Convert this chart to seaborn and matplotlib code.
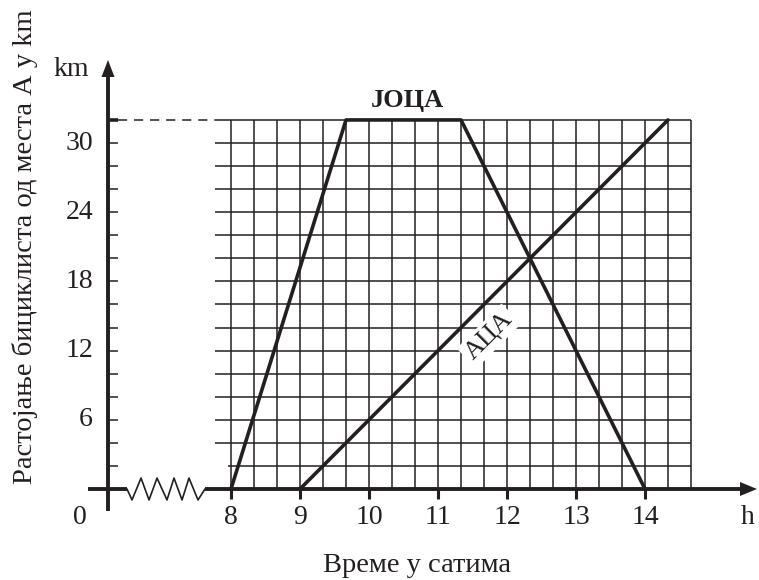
import numpy as np
import pandas as pd
import seaborn as sns
import matplotlib.pyplot as plt

sns.set_style("white")
plt.rcParams["font.family"] = ["Liberation Serif", "DejaVu Serif"]

# data (hours, km)
joca_time = [8, 9 + 2 / 3, 11 + 1 / 3, 14]
joca_km = [0, 32, 32, 0]
aca_time = [9, 14 + 1 / 3]
aca_km = [0, 32]

x_ticks = [8, 9, 10, 11, 12, 13, 14]
y_ticks = [6, 12, 18, 24, 30]

ink = "#231f20"

df = pd.concat([
    pd.DataFrame({"time": joca_time, "km": joca_km, "rider": "ЈОЦА"}),
    pd.DataFrame({"time": aca_time, "km": aca_km, "rider": "АЦА"}),
])

fig = plt.figure(figsize=(7.59, 5.80), dpi=100)
ax = fig.add_axes([0, 0, 1, 1])
# pixel-matched limits: 69 px per hour, 11.533 px per km
px, py = 1 / 69, 1 / 11.533
ax.set_xlim(8 - 231 * px, 8 + 528 * px)
ax.set_ylim((489 - 580) * py, 489 * py)
ax.axis("off")

# grid
y_axis_x = 8 - 123 * px
grid_left = 8 - 16 * px
grid_right = 14 + 2 / 3
ax.vlines(np.arange(8, grid_right + 0.01, 1 / 3), 0, 32, color=ink, lw=1.1, zorder=1)
ax.hlines(np.arange(4, 33, 2), grid_left, grid_right, color=ink, lw=1.1, zorder=1)
ax.hlines(2, 8 - 3 * px, grid_right, color=ink, lw=1.1, zorder=1)

# series
sns.lineplot(data=df[df.rider == "ЈОЦА"], x="time", y="km", color=ink, lw=2.6,
             sort=False, ax=ax, zorder=3, legend=False)
sns.lineplot(data=df[df.rider == "АЦА"], x="time", y="km", color=ink, lw=2.6,
             sort=False, ax=ax, zorder=3, legend=False)

# axes with broken x axis
zx = [6.493, 6.565, 6.696, 6.812, 6.928, 7.072, 7.174, 7.29, 7.391, 7.522, 7.623]
zy = [0, -0.95, 0.95, -0.95, 0.95, -0.95, 0.95, -0.95, 0.95, -0.95, 0]
ax.plot([5.928, 6.493], [0, 0], color=ink, lw=2.8, solid_capstyle="butt", zorder=4)
ax.plot(zx, zy, color=ink, lw=1.2, zorder=4)
ax.plot([7.623, 15.45], [0, 0], color=ink, lw=2.8, solid_capstyle="butt", zorder=4)
ax.fill([8 + 526 * px, 8 + 509 * px, 8 + 509 * px], [0, 7 * py, -7 * py],
        color=ink, lw=0, zorder=5)
ax.plot([y_axis_x, y_axis_x], [-22 * py, 36.2], color=ink, lw=2.8,
        solid_capstyle="butt", zorder=4)
ax.fill([y_axis_x, y_axis_x - 6.5 * px, y_axis_x + 6.5 * px],
        [(489 - 60) * py, (489 - 77) * py, (489 - 77) * py], color=ink, lw=0, zorder=5)

# y ticks every 2 km
tick_len = 10 * px
ax.hlines(np.arange(2, 32, 2), y_axis_x, y_axis_x + tick_len, color=ink, lw=1.1, zorder=4)
ax.hlines(32, y_axis_x, y_axis_x + tick_len, color=ink, lw=2.6, zorder=4)
ax.plot([y_axis_x + tick_len, grid_left], [32, 32], color=ink, lw=1.1,
        dashes=(6, 4.5), zorder=2)
# x ticks
ax.vlines(x_ticks, -10 * py, 0, color=ink, lw=2.2, zorder=4)

fs = 20
ty = (489 - 518) * py
for t in x_ticks:
    ax.text(t, ty, str(t), ha="center", va="center", fontsize=fs, color=ink)
ax.text(8 - 151 * px, ty, "0", ha="center", va="center", fontsize=fs, color=ink)
ax.text(8 + 517 * px, ty, "h", ha="center", va="center", fontsize=fs, color=ink)
for t in y_ticks:
    ax.text(8 - 138 * px, t, str(t), ha="right", va="center", fontsize=fs, color=ink)
ax.text(8 - 160 * px, (489 - 70) * py, "km", ha="center", va="center",
        fontsize=fs, color=ink)

# labels
ax.text(8 + 176 * px, (489 - 100) * py, "ЈОЦА", ha="center", va="center", fontsize=19,
        fontweight="bold", color=ink)
ax.text(8 + 258 * px, (489 - 336) * py, "АЦА", ha="center", va="center",
        fontsize=19, rotation=45, rotation_mode="anchor", color=ink, zorder=5,
        bbox=dict(boxstyle="square,pad=0.12", fc="white", ec="none"))
ax.text(8 - 206 * px, (489 - 247) * py, "Растојање бициклиста од места А у km",
        ha="center", va="center", rotation=90, fontsize=20.5, color=ink)
ax.text(8 + 186 * px, (489 - 565) * py, "Време у сатима", ha="center",
        va="center", fontsize=20.5, color=ink)

fig.savefig("out.png", dpi=100)
